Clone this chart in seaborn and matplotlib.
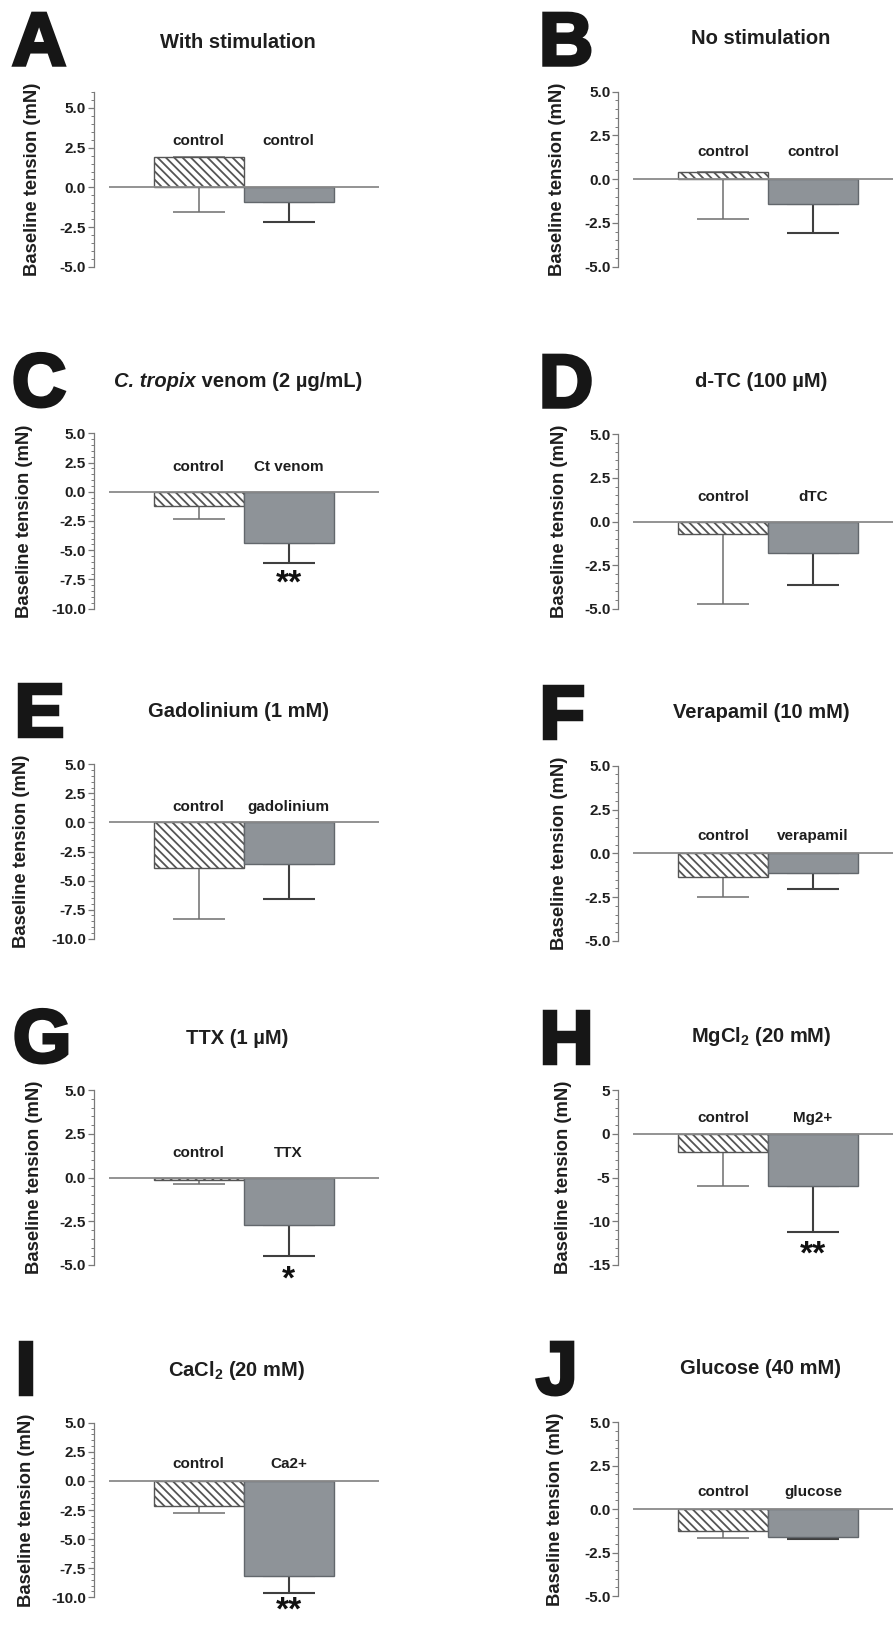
import numpy as np
import pandas as pd
import matplotlib
matplotlib.use("Agg")
import matplotlib.pyplot as plt
import seaborn as sns
from matplotlib.ticker import MultipleLocator, AutoMinorLocator, FormatStrFormatter
import matplotlib.patheffects as pe

# ---------------- data ----------------
panel_letters = ["A", "B", "C", "D", "E", "F", "G", "H", "I", "J"]
titles = [
    "With stimulation",
    "No stimulation",
    ("C. tropix", " venom (2 µg/mL)"),   # italic part, regular part
    "d-TC (100 µM)",
    "Gadolinium (1 mM)",
    "Verapamil (10 mM)",
    "TTX (1 µM)",
    r"MgCl$_\mathbf{2}$ (20 mM)",
    r"CaCl$_\mathbf{2}$ (20 mM)",
    "Glucose (40 mM)",
]
control_labels = ["control"] * 10
treat_labels = ["control", "control", "Ct venom", "dTC", "gadolinium",
                "verapamil", "TTX", "Mg2+", "Ca2+", "glucose"]
control_means = [1.9, 0.4, -1.25, -0.69, -3.9, -1.37, -0.13, -2.13, -2.15, -1.25]
control_sem = [3.45, 2.65, 1.12, 4.05, 4.39, 1.14, 0.25, 3.81, 0.65, 0.40]
treat_means = [-0.92, -1.4, -4.36, -1.83, -3.61, -1.12, -2.74, -5.98, -8.13, -1.63]
treat_sem = [1.26, 1.65, 1.71, 1.82, 2.99, 0.91, 1.77, 5.22, 1.52, 0.11]
significance = ["", "", "**", "", "", "", "*", "**", "**", ""]
y_limits = [(-5, 6), (-5, 5), (-10, 5), (-5, 5), (-10, 5),
            (-5, 5), (-5, 5), (-15, 5), (-10, 5), (-5, 5)]
y_steps = [2.5, 2.5, 2.5, 2.5, 2.5, 2.5, 2.5, 5, 2.5, 2.5]
y_label = "Baseline tension (mN)"

# ---------------- layout (pixels) ----------------
W, H = 893, 1625
ax_boxes = [
    (108.5, 378.5, 92, 267), (633, 893, 91.7, 266.7),
    (108.5, 378.5, 433.3, 608.7), (633, 893, 434.3, 608.7),
    (108.5, 378.5, 764.3, 938.7), (633, 893, 765.7, 941),
    (108.5, 378.5, 1090, 1265), (633, 893, 1090, 1265),
    (108.5, 378.5, 1422.7, 1597.3), (633, 893, 1422.3, 1596),
]
title_pos = [(238, 42), (761, 39), (238, 381.7), (761, 381.7), (238, 711.7),
             (761, 712.3), (237, 1039), (761, 1036.7), (237, 1370), (761, 1368)]
letter_pos = [(12, 65), (539, 65), (12, 406), (539, 407), (14, 736),
              (539, 738), (13, 1062), (539, 1063), (15, 1394), (536, 1394)]
ylabel_x = [33, 558, 25, 559, 22, 559, 35, 563, 27, 556]
label_y = [2.9, 1.56, 2.1, 1.41, 1.34, 0.97, 1.39, 1.83, 1.43, 0.96]
star_y = [None, None, -7.35, None, None, None, -5.45, -13.1, -10.63, None]

sns.set_theme(style="white")
plt.rcParams["font.family"] = ["Liberation Sans", "DejaVu Sans"]
plt.rcParams["font.weight"] = "bold"
plt.rcParams["axes.unicode_minus"] = False
plt.rcParams["mathtext.fontset"] = "custom"
plt.rcParams["mathtext.rm"] = "Liberation Sans:bold"
plt.rcParams["mathtext.bf"] = "Liberation Sans:bold"
plt.rcParams["mathtext.it"] = "Liberation Sans:bold:italic"
plt.rcParams["hatch.linewidth"] = 1.3
plt.rcParams["hatch.color"] = "#2a2a2a"

gray_fill = "#8c939a"
text_col = "#1e1e1e"
axis_col = "#7a7a7a"

fig = plt.figure(figsize=(W / 100, H / 100), dpi=100)
renderer = fig.canvas.get_renderer()

for i in range(10):
    l, r, t, b = ax_boxes[i]
    ax = fig.add_axes([l / W, 1 - b / H, (r - l) / W, (b - t) / H])
    df = pd.DataFrame({
        "role": ["control", "treatment"],
        "value": [control_means[i], treat_means[i]],
    })
    sns.barplot(data=df, x="role", y="value", hue="role",
                palette={"control": "white", "treatment": gray_fill},
                dodge=False, legend=False, width=1.0, errorbar=None,
                ax=ax, zorder=2, linewidth=1.0)
    patches = ax.patches
    patches[0].set_hatch("\\\\\\\\")
    patches[0].set_edgecolor("#555555")
    patches[1].set_edgecolor("#62676c")

    ax.errorbar([0], [control_means[i]], yerr=[[control_sem[i]], [0]],
                fmt="none", ecolor="#6e6e6e", elinewidth=1.1, capsize=19,
                capthick=1.1, zorder=1)
    ax.errorbar([1], [treat_means[i]], yerr=[[treat_sem[i]], [0]],
                fmt="none", ecolor="#3f3f3f", elinewidth=1.5, capsize=19,
                capthick=1.5, zorder=1)

    ax.axhline(0, color="#8a8a8a", lw=1.3, zorder=3)

    right_lim = 2.0 if r < 400 else (893 - 723) / 90
    ax.set_xlim(-1, right_lim)
    ax.set_ylim(*y_limits[i])
    ax.set_xticks([])
    ax.set_xlabel("")

    for s in ["top", "right", "bottom"]:
        ax.spines[s].set_visible(False)
    ax.spines["left"].set_position(("outward", 10.8))
    ax.spines["left"].set_color(axis_col)
    ax.spines["left"].set_linewidth(0.9)

    step = y_steps[i]
    ax.yaxis.set_major_locator(MultipleLocator(step))
    ax.yaxis.set_minor_locator(AutoMinorLocator(5))
    ax.yaxis.set_major_formatter(FormatStrFormatter("%d" if step == 5 else "%.1f"))
    ax.tick_params(axis="y", which="major", length=4, width=0.9, color=axis_col,
                   pad=1.5, labelsize=11, labelcolor=text_col, left=True)
    ax.tick_params(axis="y", which="minor", length=2, width=0.7, color=axis_col, left=True)
    for lab in ax.get_yticklabels():
        lab.set_fontweight("bold")

    ax.set_ylabel(y_label, fontsize=13.3, fontweight="bold", color=text_col, va="center")
    ax.yaxis.set_label_coords((ylabel_x[i] - l) / (r - l), 0.5)

    ax.text(0, label_y[i], control_labels[i], ha="center", va="center",
            fontsize=11, fontweight="bold", color=text_col)
    ax.text(1, label_y[i], treat_labels[i], ha="center", va="center",
            fontsize=11, fontweight="bold", color=text_col)

    if significance[i]:
        ax.annotate(significance[i], xy=(1, star_y[i]), xytext=(0, -11),
                    textcoords="offset points", ha="center", va="baseline",
                    fontsize=24, fontweight="bold", color="#111111",
                    annotation_clip=False)

    tx, ty = title_pos[i]
    if isinstance(titles[i], tuple):
        it_part, rm_part = titles[i]
        t1 = fig.text(0, 1 - ty / H, it_part, ha="left", va="center",
                      fontsize=14.5, fontweight="bold", fontstyle="italic", color=text_col)
        t2 = fig.text(0, 1 - ty / H, rm_part, ha="left", va="center",
                      fontsize=14.5, fontweight="bold", color=text_col)
        w1 = t1.get_window_extent(renderer).width
        w2 = t2.get_window_extent(renderer).width
        x0 = tx - (w1 + w2) / 2
        t1.set_x(x0 / W)
        t2.set_x((x0 + w1) / W)
    else:
        fig.text(tx / W, 1 - ty / H, titles[i], ha="center", va="center",
                 fontsize=14.5, fontweight="bold", color=text_col)
    lx, ly = letter_pos[i]
    fig.text(lx / W, 1 - ly / H, panel_letters[i], ha="left", va="baseline",
             fontsize=54, fontweight="bold", color="#161616",
             path_effects=[pe.Stroke(linewidth=2.5, foreground="#161616",
                                     joinstyle="miter"), pe.Normal()])

fig.savefig("out.png", dpi=100)
